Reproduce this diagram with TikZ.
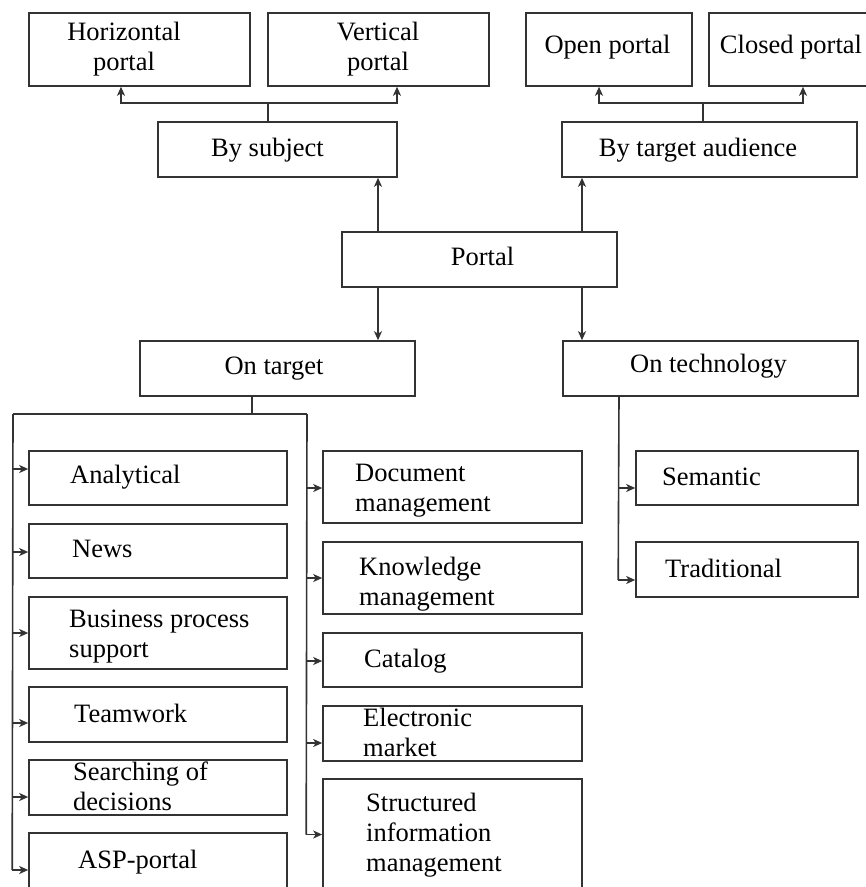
\documentclass[tikz,border=0pt]{standalone}
\usepackage{fontspec}
\setmainfont{Liberation Serif}
\usetikzlibrary{arrows.meta}
\begin{document}
\begin{tikzpicture}[x=1pt,y=-1pt,
  box/.style={draw=black!80, line width=1.6pt, inner sep=0pt},
  txt/.style={font=\fontsize{26.5}{30}\selectfont, inner sep=0pt, align=left, anchor=north west},
  ctxt/.style={font=\fontsize{26.5}{30}\selectfont, inner sep=0pt, align=center, anchor=north},
  ln/.style={draw=black!80, line width=1.6pt},
  arr/.style={ln, -{Stealth[length=9pt,width=8pt,inset=2.5pt]}}]
\useasboundingbox (0,0) rectangle (866,887);
\clip (0,0) rectangle (866,887);
% boxes
\node[box, minimum width=221pt, minimum height=73pt] (hp) at (139.5,49.5) {};
\node[box, minimum width=221pt, minimum height=73pt] (vp) at (378.5,49.5) {};
\node[box, minimum width=166pt, minimum height=73pt] (op) at (609,49.5) {};
\node[box, minimum width=161pt, minimum height=73pt] (cp) at (789.5,49.5) {};
\node[box, minimum width=239pt, minimum height=55pt] (bs) at (277.5,149.5) {};
\node[box, minimum width=295pt, minimum height=55pt] (bt) at (709.5,149.5) {};
\node[box, minimum width=275pt, minimum height=55pt] (portal) at (479.5,259.5) {};
\node[box, minimum width=275pt, minimum height=55pt] (ot) at (277.5,368.5) {};
\node[box, minimum width=295pt, minimum height=55pt] (otech) at (710.5,368.5) {};
\node[box, minimum width=258pt, minimum height=54pt] (an) at (158,478) {};
\node[box, minimum width=258pt, minimum height=54pt] (nw) at (158,551) {};
\node[box, minimum width=258pt, minimum height=72pt] (bp) at (158,633) {};
\node[box, minimum width=258pt, minimum height=55pt] (tw) at (158,714.5) {};
\node[box, minimum width=258pt, minimum height=55pt] (sd) at (158,787.5) {};
\node[box, minimum width=258pt, minimum height=57pt] (asp) at (158,861.5) {};
\node[box, minimum width=259pt, minimum height=72pt] (dm) at (452.5,487) {};
\node[box, minimum width=259pt, minimum height=72pt] (km) at (452.5,578) {};
\node[box, minimum width=259pt, minimum height=54pt] (cat) at (452.5,660) {};
\node[box, minimum width=259pt, minimum height=55pt] (em) at (452.5,733.5) {};
\node[box, minimum width=259pt, minimum height=111pt] (sim) at (452.5,834.5) {};
\node[box, minimum width=222pt, minimum height=54pt] (sem) at (747,478) {};
\node[box, minimum width=222pt, minimum height=55pt] (trad) at (747,569.5) {};
% texts
\node[ctxt] (thp) at (124,22) {Horizontal\\portal};
\node[ctxt] (tvp) at (378,22) {Vertical\\portal};
\node[ctxt] (top) at (607.5,35) {Open portal};
\node[ctxt] (tcp) at (791,35) {Closed portal};
\node[ctxt] (tbs) at (267.5,138) {By subject};
\node[ctxt] (tbt) at (698,138) {By target audience};
\node[ctxt] (tportal) at (482.5,247) {Portal};
\node[ctxt] (tot) at (274,357) {On target};
\node[ctxt] (totech) at (708.5,354) {On technology};
\node[txt] (tan) at (70,465) {Analytical};
\node[txt] (tnw) at (72,540) {News};
\node[txt] (tbp) at (69,610) {Business process\\support};
\node[txt] (ttw) at (74,704) {Teamwork};
\node[txt] (tsd) at (73,762) {Searching of\\decisions};
\node[txt] (tasp) at (78,850) {ASP-portal};
\node[txt] (tdm) at (355,464) {Document\\management};
\node[txt] (tkm) at (359,557) {Knowledge\\management};
\node[txt] (tcat) at (364,649) {Catalog};
\node[txt] (tem) at (363,708) {Electronic\\market};
\node[txt] (tsim) at (366,793) {Structured\\information\\management};
\node[txt] (tsem) at (662,468) {Semantic};
\node[txt] (ttrad) at (665,559) {Traditional};
% connectors from Portal
\coordinate (pa) at ([xshift=-101.5pt]portal.north);
\coordinate (pb) at ([xshift=102.5pt]portal.north);
\coordinate (pc) at ([xshift=-101.5pt]portal.south);
\coordinate (pd) at ([xshift=102.5pt]portal.south);
\draw[arr] (pa) -- (pa |- bs.south);
\draw[arr] (pb) -- (pb |- bt.south);
\draw[arr] (pc) -- (pc |- ot.north);
\draw[arr] (pd) -- (pd |- otech.north);
% By subject
\coordinate (bsj) at ([xshift=-9.5pt]bs.north);
\coordinate (bsk) at ([yshift=18pt]bsj);
\draw[ln] (bsj) -- (bsk);
\draw[arr] (bsk) -| ([xshift=-18.5pt]hp.south);
\draw[arr] (bsk) -| ([xshift=18.5pt]vp.south);
% By target audience
\coordinate (btj) at ([xshift=-6.5pt]bt.north);
\coordinate (btk) at ([yshift=18pt]btj);
\draw[ln] (btj) -- (btk);
\draw[arr] (btk) -| ([xshift=-10pt]op.south);
\draw[arr] (btk) -| ([xshift=13.5pt]cp.south);
% On target
\coordinate (otj) at ([xshift=-25.5pt]ot.south);
\coordinate (otk) at ([yshift=-18pt]otj);
\coordinate (tl) at (13,414);
\coordinate (tr) at (307,414);
\draw[ln] (otj) -- (otk);
\draw[ln] (tl) -- (tr);
\draw[ln] (tl) -- ([xshift=-16pt,yshift=-8.5pt]asp.west);
\draw[ln] (tr) -- ([xshift=-16pt]sim.west);
\draw[arr] ([xshift=-16pt,yshift=9pt]an.west) -- ([yshift=9pt]an.west);
\draw[arr] ([xshift=-16pt,yshift=-1pt]nw.west) -- ([yshift=-1pt]nw.west);
\draw[arr] ([xshift=-16pt]bp.west) -- (bp.west);
\draw[arr] ([xshift=-16pt,yshift=-8.5pt]tw.west) -- ([yshift=-8.5pt]tw.west);
\draw[arr] ([xshift=-16pt,yshift=-9.5pt]sd.west) -- ([yshift=-9.5pt]sd.west);
\draw[arr] ([xshift=-16pt,yshift=-8.5pt]asp.west) -- ([yshift=-8.5pt]asp.west);
\draw[arr] ([xshift=-16pt,yshift=-1pt]dm.west) -- ([yshift=-1pt]dm.west);
\draw[arr] ([xshift=-16pt]km.west) -- (km.west);
\draw[arr] ([xshift=-16pt,yshift=-1pt]cat.west) -- ([yshift=-1pt]cat.west);
\draw[arr] ([xshift=-16pt,yshift=-9.5pt]em.west) -- ([yshift=-9.5pt]em.west);
\draw[arr] ([xshift=-16pt]sim.west) -- (sim.west);
% On technology
\coordinate (tj) at ([xshift=-91.5pt]otech.south);
\draw[ln] (tj) -- ([xshift=-17pt,yshift=-10.5pt]trad.west);
\draw[arr] ([xshift=-17pt,yshift=-10pt]sem.west) -- ([yshift=-10pt]sem.west);
\draw[arr] ([xshift=-17pt,yshift=-10.5pt]trad.west) -- ([yshift=-10.5pt]trad.west);
\end{tikzpicture}
\end{document}
